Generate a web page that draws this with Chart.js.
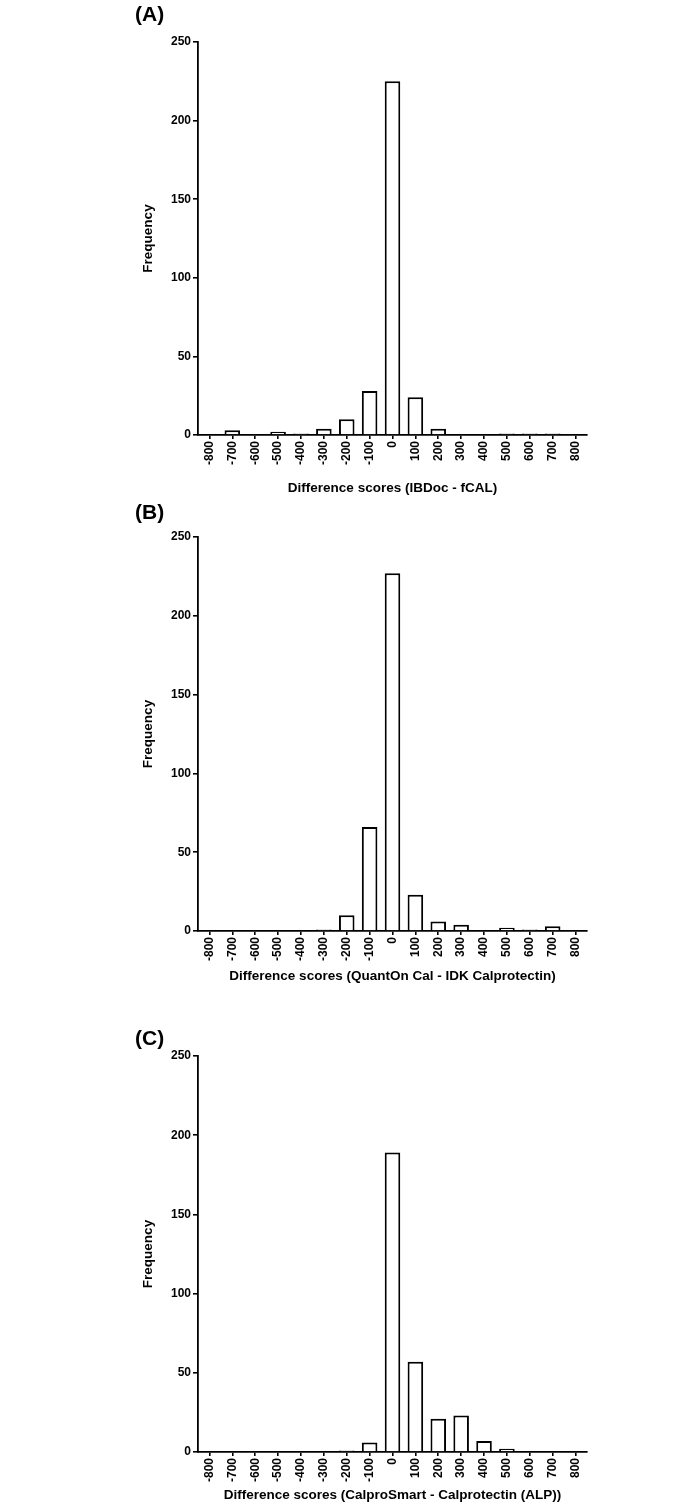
<!DOCTYPE html>
<html>
<head>
<meta charset="utf-8">
<script src="https://cdn.jsdelivr.net/npm/chart.js@4.4.1/dist/chart.umd.min.js"></script>
<style>
  html, body { margin: 0; padding: 0; background: #fff; }
  body { width: 698px; height: 1511px; position: relative; overflow: hidden; }
  canvas { position: absolute; left: 0; }
</style>
</head>
<body>
<canvas id="panelA" width="698" height="500" style="top:0px"></canvas>
<canvas id="panelB" width="698" height="500" style="top:500px"></canvas>
<canvas id="panelC" width="698" height="511" style="top:1000px"></canvas>
<script>
// bins of the difference scores (x tick labels)
const categories = ['-800', '-700', '-600', '-500', '-400', '-300', '-200', '-100', '0',
                    '100', '200', '300', '400', '500', '600', '700', '800'];

// frequencies
const freqA = [0, 3, 0, 2, 1, 4, 10, 28, 225, 24, 4, 0, 0, 1, 1, 1, 0];
const freqB = [0, 0, 0, 0, 0, 1, 10, 66, 227, 23, 6, 4, 0, 2, 1, 3, 0];
const freqC = [0, 0, 0, 0, 0, 0, 1, 6, 189, 57, 21, 23, 7, 2, 0, 0, 0];

const yMax = 250;
const yStep = 50;

const titleA = 'Difference scores (IBDoc - fCAL)';
const titleB = 'Difference scores (QuantOn Cal - IDK Calprotectin)';
const titleC = 'Difference scores (CalproSmart - Calprotectin (ALP))';

const FONT = '"Liberation Sans", Arial, Helvetica, sans-serif';

// panel letter "(A)" etc, drawn on the canvas
const letterPlugin = {
  id: 'panelLetter',
  afterDraw(chart, args, opts) {
    const ctx = chart.ctx;
    ctx.save();
    ctx.fillStyle = '#000';
    ctx.font = 'bold 21px ' + FONT;
    ctx.textAlign = 'left';
    ctx.textBaseline = 'middle';
    ctx.fillText(opts.text, 135, opts.y);
    ctx.restore();
  }
};

function makePanel(id, values, xTitle, letter, lay) {
  const canvas = document.getElementById(id);
  const H = canvas.height;
  return new Chart(canvas, {
    type: 'bar',
    data: {
      labels: categories,
      datasets: [{
        data: values,
        backgroundColor: '#fff',
        borderColor: '#000',
        borderWidth: 2,
        borderSkipped: 'start',
        barPercentage: 0.68,
        categoryPercentage: 1,
      }],
    },
    options: {
      responsive: false,
      animation: false,
      layout: { padding: { left: 136, right: 111, top: lay.top, bottom: 0 } },
      plugins: {
        legend: { display: false },
        tooltip: { enabled: false },
        panelLetter: { text: letter, y: lay.letterY },
      },
      scales: {
        x: {
          type: 'category',
          offset: true,
          afterFit: (s) => { s.height = H - lay.bottom; },
          grid: { offset: false, drawOnChartArea: false, tickLength: 4, color: '#000', lineWidth: 1.6 },
          border: { color: '#000', width: 1.8 },
          ticks: {
            autoSkip: false, minRotation: 90, maxRotation: 90, padding: 2, color: '#000',
            font: { family: FONT, size: 12, weight: 'bold' },
          },
          title: {
            display: true, text: xTitle, color: '#000',
            font: { family: FONT, size: 13.5, weight: 'bold' },
            padding: { top: 0, bottom: H - lay.titleY - 8.1 },
          },
        },
        y: {
          min: 0, max: yMax,
          afterFit: (s) => { s.width = 62; },
          grid: { drawOnChartArea: false, tickLength: 5, color: '#000', lineWidth: 1.6 },
          border: { color: '#000', width: 1.8 },
          ticks: {
            stepSize: yStep, padding: 2, color: '#000',
            font: { family: FONT, size: 12, weight: 'bold' },
          },
          title: {
            display: true, text: 'Frequency', color: '#000',
            font: { family: FONT, size: 13.5, weight: 'bold' },
            padding: { top: 4, bottom: 0 },
          },
        },
      },
    },
    plugins: [letterPlugin],
  });
}

makePanel('panelA', freqA, titleA, '(A)', { top: 42, bottom: 435, titleY: 488, letterY: 15 });
makePanel('panelB', freqB, titleB, '(B)', { top: 37, bottom: 431, titleY: 476, letterY: 13 });
makePanel('panelC', freqC, titleC, '(C)', { top: 56, bottom: 452, titleY: 495, letterY: 39 });
</script>
</body>
</html>
